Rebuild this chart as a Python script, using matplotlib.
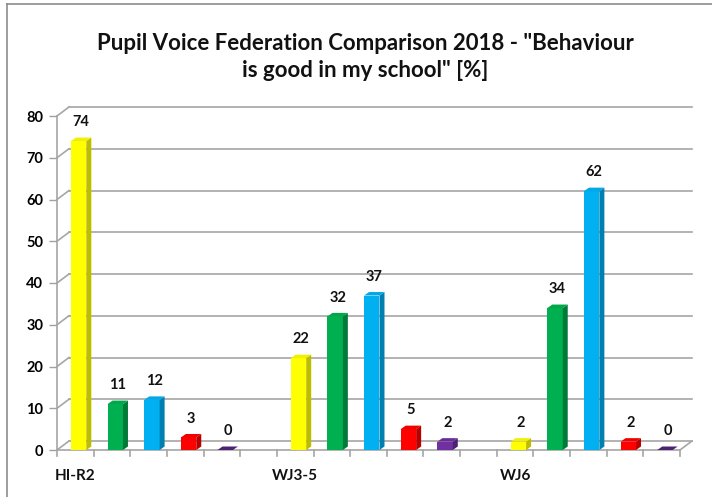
import numpy as np
import matplotlib.pyplot as plt
from matplotlib.patches import Polygon
from matplotlib.lines import Line2D

# 17 slots: 5 bars per school, one empty slot between schools
slot_labels = ['HI-R2', '', '', '', '', '', 'WJ3-5', '', '', '', '', '', 'WJ6', '', '', '', '']
values = [74, 11, 12, 3, 0, None, 22, 32, 37, 5, 2, None, 2, 34, 62, 2, 0]
front_colors = ['#FFFF00', '#00B050', '#00B0F0', '#FF0000', '#7030A0']
side_colors = ['#BDBD00', '#007A38', '#0080B0', '#B80000', '#4E2272']
top_colors = ['#F0F000', '#00A84A', '#00A8E8', '#F00000', '#6A2C98']

title = 'Pupil Voice Federation Comparison 2018 - "Behaviour\nis good in my school" [%]'

plt.rcParams['font.family'] = ['Lato', 'DejaVu Sans']

fig = plt.figure(figsize=(7.12, 4.97), dpi=100)
W, H = 712, 497
ax = fig.add_axes([57 / W, (H - 450) / H, (680 - 57) / W, (450 - 116) / H])
n = len(values)
ax.set_xlim(0, n)
ax.set_ylim(0, 80)
for s in ax.spines.values():
    s.set_visible(False)
ax.set_xticks([])
ax.set_yticks(np.arange(0, 81, 10))
ax.tick_params(axis='y', length=6, width=1, color='#A0A0A0', pad=4, labelsize=10.5)
for lab in ax.get_yticklabels():
    lab.set_fontweight('bold')

# one pixel in data units, and the depth of the walls
px_x = n / 623.0
px_y = 80 / 334.0
wx, wy = 12 * px_x, 9 * px_y
grid_c = '#A6A6A6'

for v in np.arange(0, 81, 10):
    # back wall line and left wall diagonal
    ax.plot([wx, n + wx], [v + wy, v + wy], color=grid_c, lw=1.2, clip_on=False, zorder=1)
    ax.plot([0, wx], [v, v + wy], color=grid_c, lw=1.2, clip_on=False, zorder=1)

# left axis and floor
ax.plot([0, 0], [0, 80], color=grid_c, lw=1.2, clip_on=False, zorder=2)
ax.plot([0, n], [0, 0], color=grid_c, lw=1.2, clip_on=False, zorder=2)
ax.plot([n, n + wx], [0, wy], color=grid_c, lw=1.2, clip_on=False, zorder=2)
for i in range(n + 1):
    ax.plot([i, i], [0, -6 * px_y], color=grid_c, lw=1.2, clip_on=False, zorder=2)

# bars with a small 3D depth
ddx, ddy = 5 * px_x, 3.5 * px_y
bw = 0.42
for i, v in enumerate(values):
    if v is None:
        continue
    k = (i % 6)
    x0 = i + 0.38
    ax.bar(x0, v, width=bw, align='edge', color=front_colors[k], edgecolor='none', zorder=5)
    ax.add_patch(Polygon([[x0 + bw, 0], [x0 + bw + ddx, ddy], [x0 + bw + ddx, v + ddy], [x0 + bw, v]],
                         closed=True, facecolor=side_colors[k], edgecolor='none', zorder=5))
    ax.add_patch(Polygon([[x0, v], [x0 + ddx, v + ddy], [x0 + bw + ddx, v + ddy], [x0 + bw, v]],
                         closed=True, facecolor=top_colors[k] if v > 0 else side_colors[k],
                         edgecolor='none', zorder=6))
    ax.annotate(str(v), (x0 + bw / 2 + ddx / 2, v), xytext=(0, 8.5), textcoords='offset points',
                ha='center', va='bottom', fontsize=10.5, fontweight='bold', color='#111111', zorder=7)

for i, lab in enumerate(slot_labels):
    if lab:
        ax.text(i + 0.5, -26 * px_y, lab, ha='center', va='center', fontsize=11,
                fontweight='bold', color='#111111')

fig.text(365 / W, 1 - 57 / H, title, ha='center', va='center', fontsize=16, fontweight='bold',
         color='#111111', linespacing=1.3)

# outer chart border
fig.add_artist(Line2D([7 / W, 7 / W], [0, 1 - 4 / H], color='#8C8C8C', lw=1.2))
fig.add_artist(Line2D([7 / W, 1], [1 - 4 / H, 1 - 4 / H], color='#8C8C8C', lw=1.2))

fig.savefig('out.png', dpi=100)
